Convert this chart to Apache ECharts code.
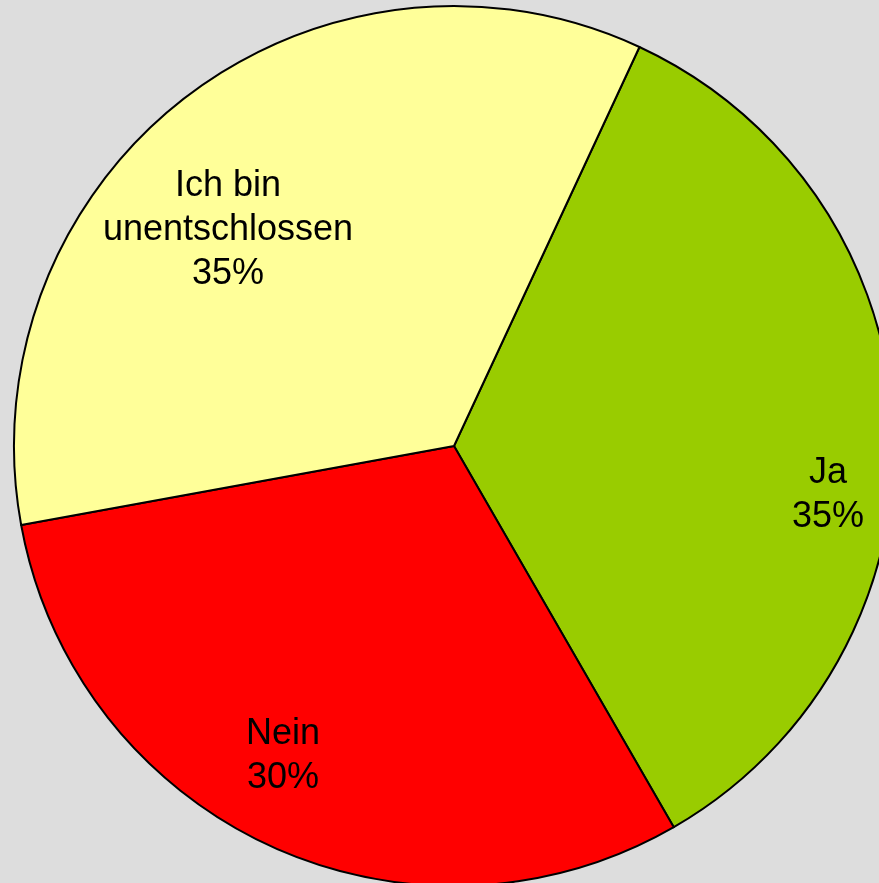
<!DOCTYPE html>
<html>
<head>
<meta charset="utf-8">
<script src="https://cdn.jsdelivr.net/npm/echarts@6/dist/echarts.min.js"></script>
<style>
  html, body { margin: 0; padding: 0; background: #dddddd; }
  #pie { width: 879px; height: 883px; }
</style>
</head>
<body>
<div id="pie"></div>
<script>
// Daten (aus den Sektorwinkeln geschätzt, Beschriftung gerundet)
const categories = ['Ja', 'Nein', 'Ich bin\nunentschlossen']
const values = [34.75, 30.45, 34.8]
const colors = ['#99cc00', '#ff0000', '#ffff99']

// Beschriftungspositionen (Pixel)
const labelPos = [[828, 495], [283, 756], [228, 230]]

const myChart = echarts.init(document.querySelector('#pie'))
const option = {
    backgroundColor: '#dddddd',
    animation: false,
    series: [
        {
            type: 'pie',
            center: [454, 446],
            radius: [0, 440],
            startAngle: 65.07,
            clockwise: true,
            silent: true,
            percentPrecision: 0,
            itemStyle: {
                borderColor: '#000',
                borderWidth: 2
            },
            label: {
                show: true,
                position: 'inside',
                formatter: '{b}\n{d}%',
                color: '#000',
                fontFamily: 'Liberation Sans, Arial, sans-serif',
                fontSize: 36,
                lineHeight: 44,
                align: 'center',
                verticalAlign: 'middle'
            },
            labelLayout: function (params) {
                const p = labelPos[params.dataIndex]
                return { x: p[0], y: p[1], align: 'center', verticalAlign: 'middle' }
            },
            emphasis: { disabled: true },
            data: categories.map((name, i) => {
                return { name: name, value: values[i], itemStyle: { color: colors[i] } }
            })
        }
    ]
}
myChart.setOption(option)
</script>
</body>
</html>
